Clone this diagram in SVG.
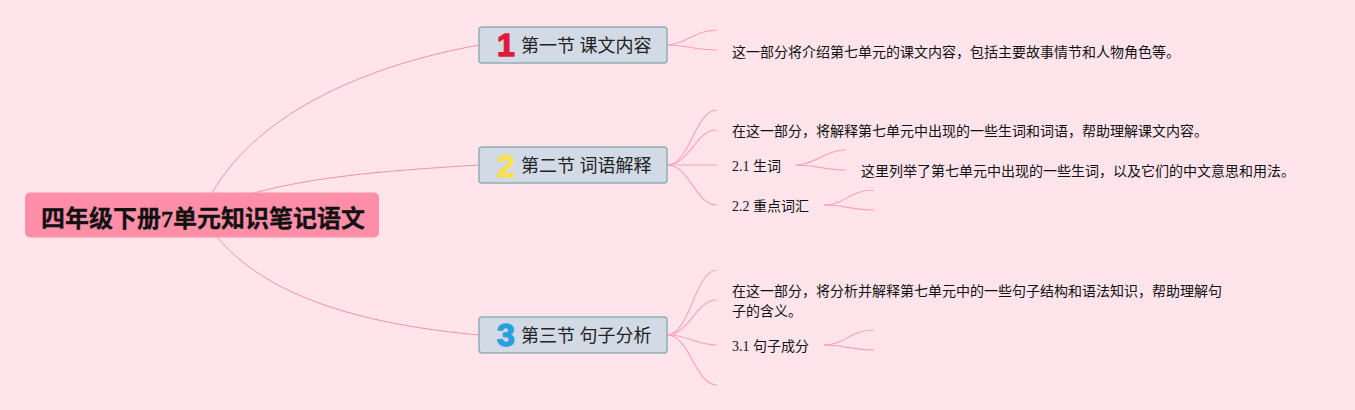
<svg xmlns="http://www.w3.org/2000/svg" width="1355" height="410" viewBox="0 0 1355 410">
<style>
text{font-family:"Liberation Serif","Noto Sans CJK SC",serif;fill:#111}
.l{fill:none;stroke:#fb9fbb;stroke-width:1.1}
.r{fill:none;stroke:#f291b0;stroke-width:1}
.s{fill:#d2dae6;stroke:#8fb0ae;stroke-width:1.5}
.t{font-size:18px;fill:#222}
.d{font-size:14px}
.n{font-family:"Liberation Sans","Noto Sans",sans-serif;font-size:32px;font-weight:700;stroke-width:1.4;stroke-linejoin:round}
</style>
<rect width="1355" height="410" fill="#ffe4ec"/>
<g id="connectors">
<path class="r" d="M212 193C260 110 370 65 479 45"/>
<path class="r" d="M254 193C320 175 400 170 479 165"/>
<path class="r" d="M217 237C270 300 370 325 479 335"/>
<path class="l" d="M667 45C685 45 695 30 717 30"/>
<path class="l" d="M667 45C685 45 695 50 717 50"/>
<path class="l" d="M667 165C690 165 695 110 717 110"/>
<path class="l" d="M667 165C690 165 695 130 717 130"/>
<path class="l" d="M667 165H717"/>
<path class="l" d="M667 165C690 165 695 205 717 205"/>
<path class="l" d="M796 165C815 165 825 150 846 150"/>
<path class="l" d="M796 165C815 165 825 170 846 170"/>
<path class="l" d="M824 205C845 205 850 190 874 190"/>
<path class="l" d="M824 205C845 205 850 210 874 210"/>
<path class="l" d="M667 335C690 335 695 270 717 270"/>
<path class="l" d="M667 335C690 335 695 300 717 300"/>
<path class="l" d="M667 335C690 335 695 345 717 345"/>
<path class="l" d="M667 335C690 335 695 385 717 385"/>
<path class="l" d="M824 345C845 345 850 330 874 330"/>
<path class="l" d="M824 345C845 345 850 350 874 350"/>
</g>
<g id="root"><rect x="25" y="192.500" width="354" height="45" rx="5" fill="#ff8fa8"/><text x="41" y="227" font-size="24" font-weight="700" stroke="#111" stroke-width=".3">四年级下册7单元知识笔记语文</text></g>
<g id="s1"><rect class="s" x="479" y="27" width="188" height="36" rx="3"/><text class="n" x="497" y="56" stroke="#e0183c" style="fill:#e0183c">1</text><text class="t" x="521" y="52">第一节 课文内容</text></g>
<g id="s2"><rect class="s" x="479" y="147" width="188" height="36" rx="3"/><text class="n" x="497" y="177" stroke="#f8df58" style="fill:#f8df58">2</text><text class="t" x="521" y="172">第二节 词语解释</text></g>
<g id="s3"><rect class="s" x="479" y="317" width="188" height="36" rx="3"/><text class="n" x="497" y="346" stroke="#2a9fe0" style="fill:#2a9fe0">3</text><text class="t" x="521" y="342">第三节 句子分析</text></g>
<g id="d1"><text class="d" x="732" y="57">这一部分将介绍第七单元的课文内容，包括主要故事情节和人物角色等。</text></g>
<g id="d2"><text class="d" x="732" y="136">在这一部分，将解释第七单元中出现的一些生词和词语，帮助理解课文内容。</text></g>
<g id="d21"><text class="d" x="732" y="171">2.1 生词</text></g>
<g id="d211"><text class="d" x="861" y="176">这里列举了第七单元中出现的一些生词，以及它们的中文意思和用法。</text></g>
<g id="d22"><text class="d" x="732" y="211">2.2 重点词汇</text></g>
<g id="d3"><text class="d" x="732" y="296">在这一部分，将分析并解释第七单元中的一些句子结构和语法知识，帮助理解句</text><text class="d" x="732" y="316">子的含义。</text></g>
<g id="d31"><text class="d" x="732" y="351">3.1 句子成分</text></g>
</svg>
